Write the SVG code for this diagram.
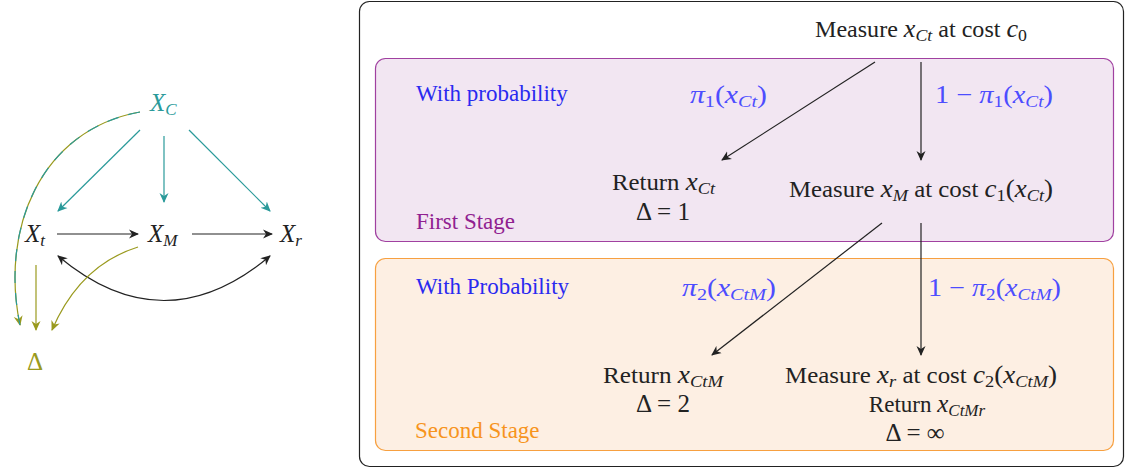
<svg xmlns="http://www.w3.org/2000/svg" width="1125" height="468" viewBox="0 0 1125 468">
<style>
text{font-family:"Liberation Serif","Times New Roman",serif;font-size:23px;fill:#222}
.m{font-style:italic;font-size:25px}
.s{font-size:17px}
.blue{fill:#2a2af0}
.pb{fill:#4d4dff}
.big{font-size:25px}
.teal{fill:#2a9a9a}
.olive{fill:#9a9a1e}
.c{fill:none;stroke-width:1.2}
.k{stroke:#222}
.t{stroke:#2a9a9a}
.o{stroke:#9a9a1e}
</style>
<defs>
<marker id="ak" viewBox="0 0 10 10" refX="9" refY="5" markerWidth="10" markerHeight="10" markerUnits="userSpaceOnUse" orient="auto-start-reverse"><path d="M0,0.5 L10,5 L0,9.5 L3,5 z" fill="#222"/></marker>
<marker id="at" viewBox="0 0 10 10" refX="9" refY="5" markerWidth="10" markerHeight="10" markerUnits="userSpaceOnUse" orient="auto"><path d="M0,0.5 L10,5 L0,9.5 L3,5 z" fill="#2a9a9a"/></marker>
<marker id="ao" viewBox="0 0 10 10" refX="9" refY="5" markerWidth="10" markerHeight="10" markerUnits="userSpaceOnUse" orient="auto"><path d="M0,0.5 L10,5 L0,9.5 L3,5 z" fill="#9a9a1e"/></marker>
</defs>

<!-- Left causal graph -->
<g id="connectors-left">
<path class="c t" d="M140,130 L58,211" marker-end="url(#at)"/>
<path class="c t" d="M164,136 L164,202" marker-end="url(#at)"/>
<path class="c t" d="M189,130 L270,211" marker-end="url(#at)"/>
<path class="c k" d="M57,234 L138,234" marker-end="url(#ak)"/>
<path class="c k" d="M192,234 L272,234" marker-end="url(#ak)"/>
<path class="c k" d="M58,256 Q164,345 270,256" marker-start="url(#ak)" marker-end="url(#ak)"/>
<path class="c o" d="M36,265 L36,330" marker-end="url(#ao)"/>
<path class="c o" d="M138,247 Q80,265 52,330" marker-end="url(#ao)"/>
<path class="c o" d="M140,112 C40,130 0,230 20,325" marker-end="url(#ao)"/>
<path class="c t" d="M140,112 C40,130 0,230 20,325" stroke-dasharray="12 10"/>
</g>
<g id="node-XC"><text x="150" y="111" class="teal"><tspan class="m">X</tspan><tspan class="m s" dy="4">C</tspan></text></g>
<g id="node-Xt"><text x="25" y="242"><tspan class="m">X</tspan><tspan class="m s" dy="4">t</tspan></text></g>
<g id="node-XM"><text x="148" y="242"><tspan class="m">X</tspan><tspan class="m s" dy="4">M</tspan></text></g>
<g id="node-Xr"><text x="280" y="242"><tspan class="m">X</tspan><tspan class="m s" dy="4">r</tspan></text></g>
<g id="node-Delta"><text x="27" y="370" class="big olive">Δ</text></g>

<!-- Right decision diagram -->
<g id="frame"><rect x="359.5" y="1.5" width="764" height="465" rx="10" fill="#fff" stroke="#222" stroke-width="1.2"/></g>
<g id="stage1"><rect x="375.5" y="58.5" width="738" height="183" rx="10" fill="#f2e6f2" stroke="#a040a0" stroke-width="1.2"/></g>
<g id="stage2"><rect x="375.5" y="258.5" width="738" height="192" rx="10" fill="#fdefe3" stroke="#f7a040" stroke-width="1.2"/></g>

<g id="connectors-right">
<path class="c k" d="M875,62 L722,160" marker-end="url(#ak)"/>
<path class="c k" d="M921,62 L921,160" marker-end="url(#ak)"/>
<path class="c k" d="M882,223 L712,355" marker-end="url(#ak)"/>
<path class="c k" d="M921,223 L921,355" marker-end="url(#ak)"/>
</g>

<g id="node-measure0"><text x="815" y="37" textLength="212" lengthAdjust="spacingAndGlyphs">Measure <tspan class="m">x</tspan><tspan class="m s" dy="4">Ct</tspan><tspan dy="-4"> at cost </tspan><tspan class="m">c</tspan><tspan class="s" dy="4">0</tspan></text></g>
<g id="label-withprob1"><text x="416" y="101" class="blue">With probability</text></g>
<g id="label-pi1"><text x="690" y="103" class="pb" textLength="77" lengthAdjust="spacingAndGlyphs"><tspan class="m">π</tspan><tspan class="s" dy="4">1</tspan><tspan dy="-4" class="big">(</tspan><tspan class="m">x</tspan><tspan class="m s" dy="4">Ct</tspan><tspan dy="-4" class="big">)</tspan></text></g>
<g id="label-1mpi1"><text x="935" y="103" class="pb big" textLength="118" lengthAdjust="spacingAndGlyphs">1 − <tspan class="m">π</tspan><tspan class="s" dy="4">1</tspan><tspan dy="-4">(</tspan><tspan class="m">x</tspan><tspan class="m s" dy="4">Ct</tspan><tspan dy="-4">)</tspan></text></g>
<g id="node-return1"><text x="612" y="190" textLength="103" lengthAdjust="spacingAndGlyphs">Return <tspan class="m">x</tspan><tspan class="m s" dy="4">Ct</tspan></text><text x="663" y="220" class="big" text-anchor="middle">Δ = 1</text></g>
<g id="node-measureM"><text x="789" y="197" textLength="264" lengthAdjust="spacingAndGlyphs">Measure <tspan class="m">x</tspan><tspan class="m s" dy="4">M</tspan><tspan dy="-4"> at cost </tspan><tspan class="m">c</tspan><tspan class="s" dy="4">1</tspan><tspan dy="-4" class="big">(</tspan><tspan class="m">x</tspan><tspan class="m s" dy="4">Ct</tspan><tspan dy="-4" class="big">)</tspan></text></g>
<g id="label-stage1"><text x="416" y="229" style="fill:#902090">First Stage</text></g>

<g id="label-withprob2"><text x="416" y="294" class="blue">With Probability</text></g>
<g id="label-pi2"><text x="682" y="296" class="pb" textLength="94" lengthAdjust="spacingAndGlyphs"><tspan class="m">π</tspan><tspan class="s" dy="4">2</tspan><tspan dy="-4" class="big">(</tspan><tspan class="m">x</tspan><tspan class="m s" dy="4">CtM</tspan><tspan dy="-4" class="big">)</tspan></text></g>
<g id="label-1mpi2"><text x="928" y="296" class="pb big" textLength="133" lengthAdjust="spacingAndGlyphs">1 − <tspan class="m">π</tspan><tspan class="s" dy="4">2</tspan><tspan dy="-4">(</tspan><tspan class="m">x</tspan><tspan class="m s" dy="4">CtM</tspan><tspan dy="-4">)</tspan></text></g>
<g id="node-return2"><text x="603" y="383" textLength="120" lengthAdjust="spacingAndGlyphs">Return <tspan class="m">x</tspan><tspan class="m s" dy="4">CtM</tspan></text><text x="663" y="412" class="big" text-anchor="middle">Δ = 2</text></g>
<g id="node-measureR"><text x="785" y="383" textLength="272" lengthAdjust="spacingAndGlyphs">Measure <tspan class="m">x</tspan><tspan class="m s" dy="4">r</tspan><tspan dy="-4"> at cost </tspan><tspan class="m">c</tspan><tspan class="s" dy="4">2</tspan><tspan dy="-4" class="big">(</tspan><tspan class="m">x</tspan><tspan class="m s" dy="4">CtM</tspan><tspan dy="-4" class="big">)</tspan></text><text x="927" y="412" text-anchor="middle">Return <tspan class="m">x</tspan><tspan class="m s" dy="4">CtMr</tspan></text><text x="915" y="441" class="big" text-anchor="middle">Δ = ∞</text></g>
<g id="label-stage2"><text x="415" y="438" style="fill:#f7941d">Second Stage</text></g>
</svg>
